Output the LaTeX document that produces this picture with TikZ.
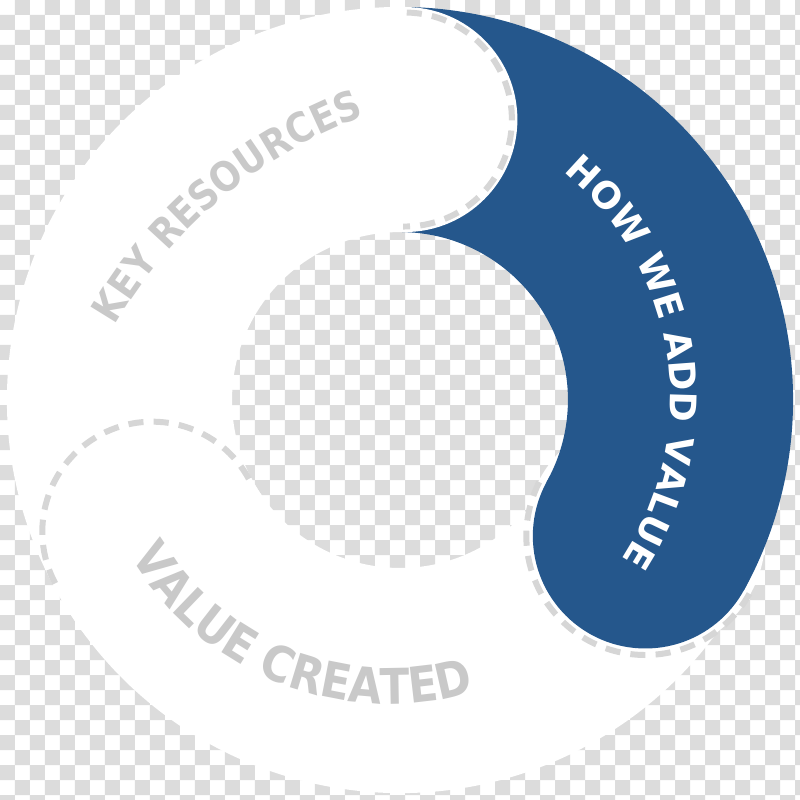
\documentclass[tikz,border=0pt]{standalone}
\usepackage{fontspec}
\setmainfont{DejaVu Sans}
\newfontfamily\ringnarrow[FakeStretch=0.88]{DejaVu Sans}
\usetikzlibrary{decorations.text}

\definecolor{valueblue}{HTML}{25578C}
\definecolor{labelgrey}{HTML}{C9C9C9}
\definecolor{checkgrey}{HTML}{DCDCDC}
\definecolor{seamgrey}{HTML}{D6D6D6}
\newcommand{\ringfont}[1]{\bfseries\fontsize{#1}{#1}\selectfont}

\tikzset{
  band/.style={line width=2.25cm, line cap=round},
  seam/.style={seamgrey, line width=1.7pt, dash pattern=on 4.3pt off 2.9pt},
  ringlabel/.style={decorate, decoration={text along path, text align=center, text color=#1}}
}

\begin{document}
\begin{tikzpicture}[x=0.01cm, y=0.01cm]
  \useasboundingbox (-400,-400) rectangle (400,400);
  \begin{scope}
    \clip (-400,-400) rectangle (400,400);
    \fill[white] (-400,-400) rectangle (400,400);
    \foreach \j in {0,...,53}{
      \pgfmathtruncatemacro\s{mod(\j+1,2)}
      \fill[checkgrey] \foreach \i in {0,...,26}{ ({(2*\i+\s)*15-400},{400-\j*15}) rectangle ++(15,-15) };
    }
  \end{scope}

  \coordinate (kcap) at (89:280.5);
  \coordinate (vcap) at (208:280.5);
  \coordinate (bcap) at (-29:280.5);

  % key resources
  \draw[band, white] (215:280.5) arc[start angle=215, end angle=89, radius=280.5];
  % value created
  \draw[band, white] (vcap) arc[start angle=208, end angle=331, radius=280.5];
  \draw[seam, shift={(vcap)}] (208:110) arc[start angle=208, end angle=28, radius=110];
  % how we add value
  \fill[white] (bcap) circle[radius=120];
  \draw[seam, shift={(bcap)}] (331:119) arc[start angle=331, end angle=151, radius=119];
  \draw[band, line cap=butt, valueblue] (kcap) arc[start angle=89, end angle=-29, radius=280.5];
  \fill[valueblue] (bcap) circle[radius=112.5];
  \fill[white] (kcap) circle[radius=112.5];
  \draw[seam, shift={(kcap)}] (89:107) arc[start angle=89, end angle=-91, radius=107];

  \path[ringlabel=labelgrey, decoration={text={|\ringnarrow\ringfont{11.6pt}|KEY RESOURCES}}, shift={(129,-166)}]
    (165:479) arc[start angle=165, end angle=95, radius=479];
  \path[ringlabel=labelgrey, decoration={text={|\ringnarrow\ringfont{14pt}|VALUE CREATED}}, shift={(-10,-2)}]
    (198.5:302) arc[start angle=198.5, end angle=298.5, radius=302];
  \path[ringlabel=white, decoration={text={|\ringfont{10.4pt}|HOW WE ADD VALUE}}, shift={(-23,2)}]
    (68.5:293) arc[start angle=68.5, end angle=-51.5, radius=293];
\end{tikzpicture}
\end{document}
